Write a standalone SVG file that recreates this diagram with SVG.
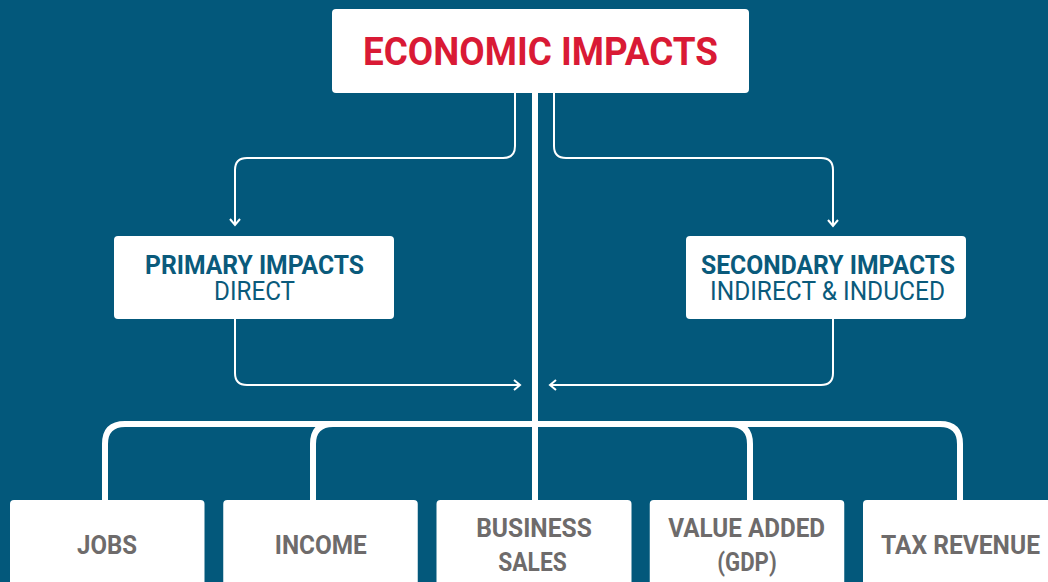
<svg xmlns="http://www.w3.org/2000/svg" width="1048" height="582" viewBox="0 0 1048 582">
<defs>
<style>
.box{fill:#ffffff}
.thin{fill:none;stroke:#ffffff;stroke-width:2}
.thick{fill:none;stroke:#ffffff;stroke-width:6}
.title{font-family:Roboto,"Liberation Sans",sans-serif;font-weight:700;font-size:39px;fill:#d91a35;text-anchor:middle}
.hb{font-family:Roboto,"Liberation Sans",sans-serif;font-weight:700;font-size:25px;fill:#0a5a7b;text-anchor:middle}
.hr{font-family:Roboto,"Liberation Sans",sans-serif;font-weight:400;font-size:26px;fill:#0a5a7b;text-anchor:middle}
.lb{font-family:Roboto,"Liberation Sans",sans-serif;font-weight:700;font-size:26px;fill:#6e6b6b;text-anchor:middle}
</style>
<marker id="arr" viewBox="0 0 12 12" refX="10" refY="6" markerWidth="12" markerHeight="12" markerUnits="userSpaceOnUse" orient="auto">
<path d="M4,1 L10,6 L4,11" fill="none" stroke="#ffffff" stroke-width="2"/>
</marker>
</defs>
<rect width="1048" height="582" fill="#03587b"/>
<g id="connectors">
<path class="thick" d="M535,93 V501"/>
<path class="thick" d="M105,501 V444 Q105,424 125,424 H940 Q960,424 960,444 V501"/>
<path class="thick" d="M313,501 V444 Q313,424 333,424"/>
<path class="thick" d="M730,424 Q750,424 750,444 V501"/>
<path class="thin" d="M515,93 V146 Q515,158 503,158 H247 Q235,158 235,170 V225" marker-end="url(#arr)"/>
<path class="thin" d="M554,93 V146 Q554,158 566,158 H821 Q833,158 833,170 V226" marker-end="url(#arr)"/>
<path class="thin" d="M235,319 V373 Q235,385 247,385 H520" marker-end="url(#arr)"/>
<path class="thin" d="M833,319 V373 Q833,385 821,385 H550" marker-end="url(#arr)"/>
</g>
<g id="economic-impacts">
<rect class="box" x="332" y="9" width="417" height="84" rx="4"/>
<text class="title" x="540.5" y="65" textLength="355" lengthAdjust="spacingAndGlyphs">ECONOMIC IMPACTS</text>
</g>
<g id="primary-impacts">
<rect class="box" x="114" y="236" width="280" height="83" rx="4"/>
<text class="hb" x="254.5" y="274" textLength="219" lengthAdjust="spacingAndGlyphs">PRIMARY IMPACTS</text>
<text class="hr" x="254.5" y="300" textLength="81" lengthAdjust="spacingAndGlyphs">DIRECT</text>
</g>
<g id="secondary-impacts">
<rect class="box" x="686" y="236" width="280" height="83" rx="4"/>
<text class="hb" x="828" y="274" textLength="254" lengthAdjust="spacingAndGlyphs">SECONDARY IMPACTS</text>
<text class="hr" x="827.5" y="300" textLength="235" lengthAdjust="spacingAndGlyphs">INDIRECT &amp; INDUCED</text>
</g>
<g id="jobs">
<rect class="box" x="10" y="500" width="194.5" height="100" rx="4"/>
<text class="lb" x="107" y="554" textLength="60" lengthAdjust="spacingAndGlyphs">JOBS</text>
</g>
<g id="income">
<rect class="box" x="223.25" y="500" width="194.5" height="100" rx="4"/>
<text class="lb" x="320.8" y="554" textLength="92" lengthAdjust="spacingAndGlyphs">INCOME</text>
</g>
<g id="business-sales">
<rect class="box" x="436.5" y="500" width="195" height="100" rx="4"/>
<text class="lb" x="534" y="537" textLength="115.7" lengthAdjust="spacingAndGlyphs">BUSINESS</text>
<text class="lb" x="532.5" y="570.5" textLength="68.4" lengthAdjust="spacingAndGlyphs">SALES</text>
</g>
<g id="value-added">
<rect class="box" x="649.75" y="500" width="194.5" height="100" rx="4"/>
<text class="lb" x="746.7" y="537" textLength="156.7" lengthAdjust="spacingAndGlyphs">VALUE ADDED</text>
<text class="lb" x="747" y="570.5" textLength="59.4" lengthAdjust="spacingAndGlyphs">(GDP)</text>
</g>
<g id="tax-revenue">
<rect class="box" x="863" y="500" width="200" height="100" rx="4"/>
<text class="lb" x="960.5" y="554" textLength="159" lengthAdjust="spacingAndGlyphs">TAX REVENUE</text>
</g>
</svg>
